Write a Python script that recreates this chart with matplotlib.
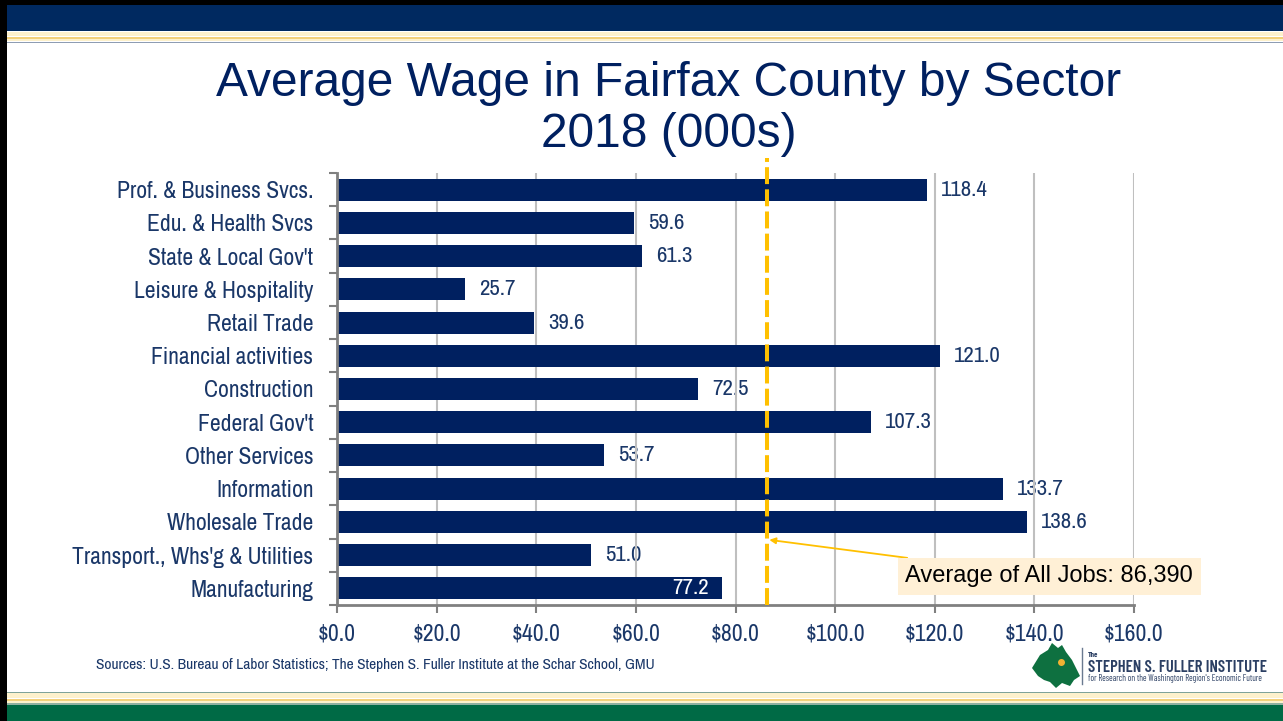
# -*- coding: utf-8 -*-
# Average wage in Fairfax County by sector, 2018 (000s)
import matplotlib
matplotlib.use("Agg")
import matplotlib.pyplot as plt
from matplotlib.patches import Rectangle, Polygon

# Data
sectors = ["Prof. & Business Svcs.", "Edu. & Health Svcs", "State & Local Gov't",
           "Leisure & Hospitality", "Retail Trade", "Financial activities",
           "Construction", "Federal Gov't", "Other Services", "Information",
           "Wholesale Trade", "Transport., Whs'g & Utilities", "Manufacturing"]
wages = [118.4, 59.6, 61.3, 25.7, 39.6, 121.0, 72.5, 107.3, 53.7, 133.7, 138.6, 51.0, 77.2]
avg_all_jobs = 86.390
x_ticks = [0, 20, 40, 60, 80, 100, 120, 140, 160]

# Styling
NARROW = ["Liberation Sans Narrow", "Archivo Narrow", "Liberation Sans", "DejaVu Sans"]
LOGO = ["Barlow Condensed", "Archivo Narrow", "Liberation Sans", "DejaVu Sans"]
ARIAL = ["Liberation Sans", "DejaVu Sans"]
NAVY = "#002060"
TXT = "#1A3768"
GOLD = "#FFC000"
LBL = 17

W, H = 1283, 721
fig = plt.figure(figsize=(W / 100, H / 100), dpi=100)

# Background / slide decoration in pixel coordinates
bg = fig.add_axes([0, 0, 1, 1], zorder=0)
bg.set_xlim(0, W)
bg.set_ylim(H, 0)
bg.axis("off")


def band(y0, y1, color, x0=0):
    bg.add_patch(Rectangle((x0, y0), W - x0, y1 - y0, color=color, lw=0))


band(0, 5, "black")
band(5, 31, "#002960")
band(32, 35.5, "#FDF1CC")
band(36.5, 38.5, "#F2D07A")
band(38.5, 41, "#FDF1CC")
band(41.5, 43, "#8E9DB3")
band(691.5, 693, "#7FA398")
band(693, 698, "#FDF1CC")
band(699, 701, "#F2D07A")
band(701, 703, "#FDF1CC")
band(703, 704.5, "#8FB0A0")
band(704.5, H, "#006A45")
bg.add_patch(Rectangle((0, 0), 7, H, color="black", lw=0))

# Title
bg.text(668.5, 96, "Average Wage in Fairfax County by Sector",
        ha="center", va="baseline", fontsize=34.5, color=NAVY, family=ARIAL)
bg.text(668.5, 147, "2018 (000s)",
        ha="center", va="baseline", fontsize=34.5, color=NAVY, family=ARIAL)

# Source
bg.text(96, 665,
        "Sources: U.S. Bureau of Labor Statistics; The Stephen S. Fuller Institute at the Schar School, GMU",
        ha="left", va="center", fontsize=11.2, color=TXT, family=NARROW)

# Logo (rough map shape + text)
logo = [(1032, 668), (1040, 655), (1048, 650), (1052, 643), (1058, 648), (1062, 645),
        (1066, 652), (1072, 660), (1076, 668), (1080, 676), (1074, 680), (1070, 686),
        (1062, 683), (1056, 688), (1050, 682), (1044, 680), (1038, 676)]
bg.add_patch(Polygon(logo, closed=True, color="#0E7040", lw=0))
bg.plot([1061], [662], "o", color="#F2B233", ms=4)
bg.plot([1082, 1082], [648, 684], color="#6A7A90", lw=1)
bg.text(1088, 655, "The", fontsize=5.5, color="#2B3F63", family=LOGO, va="center", fontweight="bold")
bg.text(1088, 667, "STEPHEN S. FULLER INSTITUTE", fontsize=12, color="#2B3F63",
        family=LOGO, va="center", fontweight="semibold")
bg.text(1088, 678.5, "for Research on the Washington Region's Economic Future", fontsize=6.3,
        color="#2B3F63", family=LOGO, va="center")

# Chart
ax = fig.add_axes([337 / W, 1 - 605 / H, (1134 - 337) / W, (605 - 173) / H], zorder=1)
ax.patch.set_alpha(0)
ypos = list(range(len(sectors)))
ax.barh(ypos, wages, height=0.66, color=NAVY, zorder=2)
ax.set_xlim(0, 160)
ax.set_ylim(len(sectors) - 0.5, -0.5)

ax.set_xticks(x_ticks)
ax.set_xticklabels(["${:.1f}".format(v) for v in x_ticks], family=NARROW, fontsize=LBL, color=TXT)
ax.set_yticks(ypos)
ax.set_yticklabels(sectors, family=NARROW, fontsize=LBL, color=TXT)
ax.set_yticks([i - 0.5 for i in range(len(sectors) + 1)], minor=True)
ax.tick_params(axis="y", which="major", length=0, pad=17)
ax.tick_params(axis="y", which="minor", length=6, width=1.5, color="#808080", direction="out")
ax.tick_params(axis="x", which="major", length=6, width=1.5, color="#808080", pad=7)

ax.grid(axis="x", color="#BFBFBF", lw=1.5)
ax.set_axisbelow(True)
for s in ["top", "right"]:
    ax.spines[s].set_visible(False)
for s in ["left", "bottom"]:
    ax.spines[s].set_color("#808080")
    ax.spines[s].set_linewidth(2)

# Value labels
for i, v in enumerate(wages):
    if sectors[i] == "Manufacturing":
        ax.annotate("{:.1f}".format(v), (v, i), xytext=(-9, 0), textcoords="offset points",
                    ha="right", va="center", color="white", fontsize=16.5, family=NARROW, zorder=3)
    else:
        ax.annotate("{:.1f}".format(v), (v, i), xytext=(10, 0), textcoords="offset points",
                    ha="left", va="center", color=TXT, fontsize=16.5, family=NARROW, zorder=0.4)

# Average line + callout
ax.axvline(avg_all_jobs, ymin=0, ymax=1.035, color=GOLD, lw=2.9, dashes=(4.2, 1.3),
           clip_on=False, zorder=4)
ax.annotate("Average of All Jobs: {:,.0f}".format(avg_all_jobs * 1000),
            xy=(avg_all_jobs + 0.4, 10.54), xytext=(143.0, 11.64),
            ha="center", va="center", fontsize=17, color="black", family=ARIAL,
            bbox=dict(boxstyle="square,pad=0.32", fc="#FFF0D6", ec="none"),
            arrowprops=dict(arrowstyle="-|>", color=GOLD, lw=1.3, mutation_scale=9,
                            shrinkA=0, shrinkB=0),
            zorder=5)

fig.savefig("out.png", dpi=100)
